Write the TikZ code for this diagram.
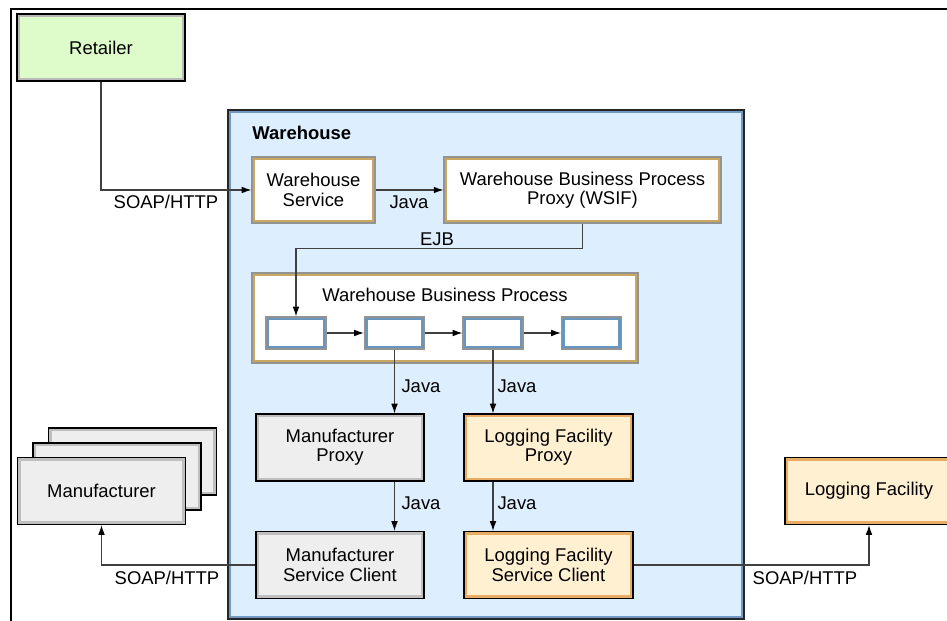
\documentclass[tikz,border=0pt]{standalone}
\usepackage{fontspec}
\setmainfont{Liberation Sans}
\usetikzlibrary{arrows.meta,positioning}
\definecolor{retfill}{RGB}{221,252,202}
\definecolor{whfill}{RGB}{221,238,255}
\definecolor{whband}{RGB}{112,152,192}
\definecolor{goldband}{RGB}{200,168,96}
\definecolor{taskband}{RGB}{104,150,190}
\definecolor{orfill}{RGB}{255,240,210}
\definecolor{orband}{RGB}{232,172,100}

\begin{document}
\begin{tikzpicture}[x=0.02cm, y=-0.02cm,
  font=\fontsize{10.5}{11}\selectfont,
  inband/.style={path picture={\draw[#1, line width=3.6pt] (path picture bounding box.south west) rectangle (path picture bounding box.north east);}},
  box/.style={line width=0.7pt, align=center, inner sep=0pt},
  retbox/.style={box, draw=black, fill=retfill, inband=gray!55, minimum width=3.36cm, minimum height=1.34cm},
  whbox/.style={box, draw=black!85, fill=whfill, inband=whband, minimum width=10.32cm, minimum height=10.18cm},
  goldbox/.style={box, draw=gray!85, fill=white, inband=goldband, minimum height=1.32cm},
  taskbox/.style={box, draw=gray!85, fill=white, inband=taskband, minimum width=1.2cm, minimum height=0.64cm},
  mfrbox/.style={box, draw=black, fill=gray!13, inband=gray!50, minimum width=3.36cm, minimum height=1.34cm},
  logbox/.style={box, draw=black, fill=orfill, inband=orband, minimum width=3.36cm, minimum height=1.34cm},
  conn/.style={draw=black!75, line width=0.6pt, -{Latex[length=5.5pt,width=3.8pt,black]}},
  lbl/.style={inner sep=0pt}
]
\useasboundingbox (0,0) rectangle (947,621);
\draw[line width=0.6pt] (947,9) -- (11,9) -- (11,621);

% outside parties
\node[retbox] (retailer) at (101,47.5) {Retailer};
\node[mfrbox] (mfr3) at (132.5,461.5) {};
\node[mfrbox] (mfr2) at (117,476.5) {};
\node[mfrbox] (mfr) at (101.5,491) {Manufacturer};
\node[logbox] (logging) at (869,491) {Logging Facility};

% warehouse
\node[whbox] (wh) at (486,364.5) {};
\node[lbl, anchor=west, font=\fontsize{10.5}{11}\selectfont\bfseries] at (252,133) {Warehouse};
\node[goldbox, minimum width=2.46cm] (wsvc) at (313.5,190) {Warehouse\\Service};
\node[goldbox, minimum width=5.54cm] (proxy) at (582.5,190) {Warehouse Business Process\\Proxy (WSIF)};
\node[goldbox, minimum width=7.72cm, minimum height=1.8cm] (wbp) at (445,318) {};
\node[lbl] (wbptitle) at (445,295) {Warehouse Business Process};
\foreach \i/\x in {1/296,2/394.5,3/493,4/591.5}
  \node[taskbox] (t\i) at (\x,333) {};
\node[mfrbox] (mproxy) at (340,447.5) {Manufacturer\\Proxy};
\node[mfrbox] (msc) at (340,565) {Manufacturer\\Service Client};
\node[logbox, minimum width=3.38cm] (lproxy) at (548.5,447.5) {Logging Facility\\Proxy};
\node[logbox, minimum width=3.38cm] (lsc) at (548.5,565) {Logging Facility\\Service Client};

% connectors
\draw[conn] (retailer.south) |- (wsvc.west);
\node[lbl] at (166,202) {SOAP/HTTP};
\draw[conn] (wsvc.east) -- (proxy.west);
\node[lbl] at (409,202) {Java};
\draw[conn] (proxy.south) -- ++(0,25) -| (t1.north);
\node[lbl] at (437,239) {EJB};
\foreach \a/\b in {1/2,2/3,3/4}
  \draw[conn] (t\a.east) -- (t\b.west);
\draw[conn] (t2.south) -- (t2.south |- mproxy.north);
\node[lbl] at (421,386) {Java};
\draw[conn] (t3.south) -- (t3.south |- lproxy.north);
\node[lbl] at (517,386) {Java};
\draw[conn] (t2.south |- mproxy.south) -- (t2.south |- msc.north);
\node[lbl] at (421,503) {Java};
\draw[conn] (t3.south |- lproxy.south) -- (t3.south |- lsc.north);
\node[lbl] at (517,503) {Java};
\draw[conn] (msc.west) -| (mfr.south);
\node[lbl] at (167,578) {SOAP/HTTP};
\draw[conn] (lsc.east) -| (logging.south);
\node[lbl] at (805,578) {SOAP/HTTP};
\end{tikzpicture}
\end{document}
